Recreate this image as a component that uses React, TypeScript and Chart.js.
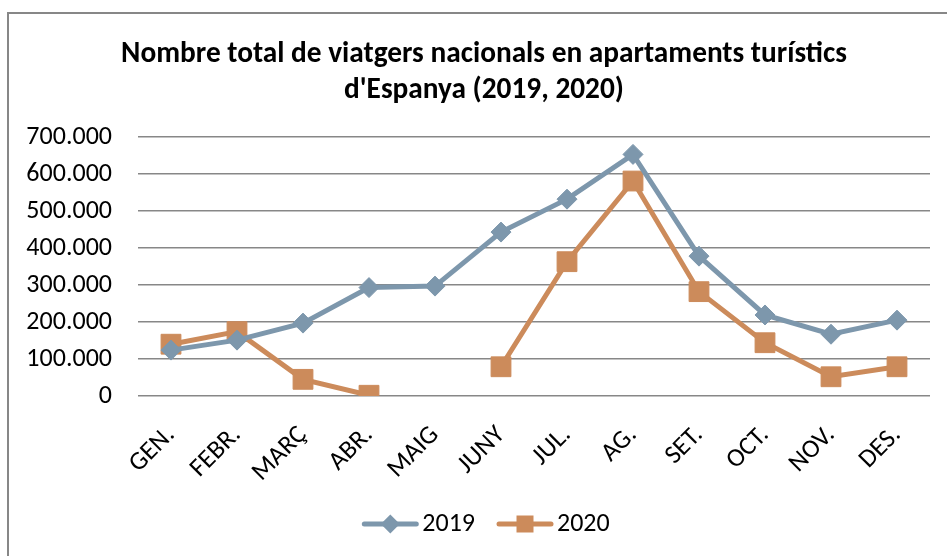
import React, { useEffect, useRef } from "react";
import { Chart, registerables } from "chart.js";

Chart.register(...registerables);

const TITLE_LINES = [
  "Nombre total de viatgers nacionals en apartaments turístics",
  "d'Espanya (2019, 2020)",
];
const MONTHS = ["GEN.", "FEBR.", "MARÇ", "ABR.", "MAIG", "JUNY", "JUL.", "AG.", "SET.", "OCT.", "NOV.", "DES."];
const SERIES_NAMES = ["2019", "2020"];
const VALUES_2019 = [124000, 151000, 197000, 293000, 297000, 443000, 532000, 653000, 378000, 219000, 167000, 205000];
const VALUES_2020 = [140000, 174000, 45000, 2000, null, 79000, 363000, 581000, 282000, 144000, 52000, 79000];
const Y_MIN = 0;
const Y_MAX = 700000;
const Y_STEP = 100000;

const COLOR_2019 = "#7d97ac";
const COLOR_2020 = "#cc8b5b";
const TEXT_FONT = "Carlito, Calibri, sans-serif";
const TITLE_FONT = "Carlito, Calibri, sans-serif";

function formatThousands(v: number): string {
  return Math.round(v)
    .toString()
    .replace(/\B(?=(\d{3})+(?!\d))/g, ".");
}

const decorPlugin = {
  id: "decor",
  afterDraw(chart: any) {
    const ctx: CanvasRenderingContext2D = chart.ctx;
    // Title
    ctx.save();
    ctx.fillStyle = "#000";
    ctx.textAlign = "center";
    ctx.textBaseline = "alphabetic";
    let size = 24;
    ctx.font = `bold ${size}px ${TITLE_FONT}`;
    const w = ctx.measureText(TITLE_LINES[0]).width;
    size = (size * 726) / w;
    ctx.font = `bold ${size}px ${TITLE_FONT}`;
    const cx = 484;
    ctx.fillText(TITLE_LINES[0], cx, 62);
    ctx.fillText(TITLE_LINES[1], cx, 98);
    ctx.restore();

    // Legend
    ctx.save();
    ctx.font = `26px ${TEXT_FONT}`;
    ctx.textBaseline = "middle";
    ctx.textAlign = "left";
    const lineLen = 56;
    const gapText = 4;
    const gapItems = 22;
    const items = chart.data.datasets.map((ds: any) => ({
      ds,
      tw: ctx.measureText(ds.label).width,
    }));
    const total =
      items.reduce((s: number, it: any) => s + lineLen + gapText + it.tw, 0) + gapItems * (items.length - 1);
    let x = 486 - total / 2;
    const y = 524;
    items.forEach((it: any) => {
      const ds = it.ds;
      ctx.strokeStyle = ds.borderColor;
      ctx.lineWidth = 5;
      ctx.lineCap = "round";
      ctx.beginPath();
      ctx.moveTo(x + 2, y);
      ctx.lineTo(x + lineLen - 2, y);
      ctx.stroke();
      ctx.fillStyle = ds.pointBackgroundColor;
      const mx = x + lineLen / 2;
      ctx.beginPath();
      if (ds.pointStyle === "rectRot") {
        const r = 9.5;
        ctx.moveTo(mx, y - r);
        ctx.lineTo(mx + r, y);
        ctx.lineTo(mx, y + r);
        ctx.lineTo(mx - r, y);
        ctx.closePath();
      } else {
        const h = 8.5;
        ctx.rect(mx - h, y - h, 2 * h, 2 * h);
      }
      ctx.fill();
      ctx.fillStyle = "#000";
      ctx.fillText(ds.label, x + lineLen + gapText, y);
      x += lineLen + gapText + it.tw + gapItems;
    });
    ctx.restore();
  },
};

export default function App() {
  const ref = useRef<HTMLCanvasElement | null>(null);

  useEffect(() => {
    if (!ref.current) return;
    const chart = new Chart(ref.current, {
      type: "line",
      data: {
        labels: MONTHS,
        datasets: [
          {
            label: SERIES_NAMES[0],
            data: VALUES_2019,
            borderColor: COLOR_2019,
            backgroundColor: COLOR_2019,
            pointBackgroundColor: COLOR_2019,
            pointBorderColor: COLOR_2019,
            borderWidth: 5,
            pointStyle: "rectRot",
            pointRadius: 10,
            pointBorderWidth: 1,
            pointHoverRadius: 10,
            tension: 0,
            spanGaps: false,
          },
          {
            label: SERIES_NAMES[1],
            data: VALUES_2020,
            borderColor: COLOR_2020,
            backgroundColor: COLOR_2020,
            pointBackgroundColor: COLOR_2020,
            pointBorderColor: COLOR_2020,
            borderWidth: 5,
            pointStyle: "rect",
            pointRadius: 14,
            pointBorderWidth: 1,
            pointHoverRadius: 14,
            tension: 0,
            spanGaps: false,
          },
        ],
      },
      options: {
        animation: false,
        responsive: false,
        maintainAspectRatio: false,
        layout: { padding: { left: 0, right: 17, top: 137, bottom: 60 } },
        plugins: {
          legend: { display: false },
          title: { display: false },
          tooltip: { enabled: false },
        },
        scales: {
          x: {
            type: "category",
            offset: true,
            grid: { display: false, drawTicks: false },
            border: { display: false },
            ticks: {
              minRotation: 45,
              maxRotation: 45,
              autoSkip: false,
              padding: 24,
              color: "#000",
              font: { family: TEXT_FONT, size: 26 },
            },
            afterFit: (scale: any) => {
              scale.height = 100;
            },
          },
          y: {
            min: Y_MIN,
            max: Y_MAX,
            border: { display: false },
            grid: { color: "#878787", lineWidth: 1.6, drawTicks: false },
            ticks: {
              stepSize: Y_STEP,
              padding: 26,
              color: "#000",
              font: { family: TEXT_FONT, size: 26 },
              callback: (v: any) => formatThousands(Number(v)),
            },
            afterFit: (scale: any) => {
              scale.width = 138;
            },
          },
        },
      },
      plugins: [decorPlugin],
    });
    return () => chart.destroy();
  }, []);

  return (
    <div
      style={{
        position: "fixed",
        left: 0,
        top: 0,
        width: 947,
        height: 556,
        overflow: "hidden",
        background: "#fff",
      }}
    >
      <div
        style={{
          position: "absolute",
          left: 7,
          top: 12,
          width: 1000,
          height: 600,
          border: "2px solid #878787",
          boxSizing: "border-box",
        }}
      />
      <canvas
        ref={ref}
        width={947}
        height={556}
        style={{ position: "absolute", left: 0, top: 0, width: 947, height: 556 }}
      />
    </div>
  );
}
